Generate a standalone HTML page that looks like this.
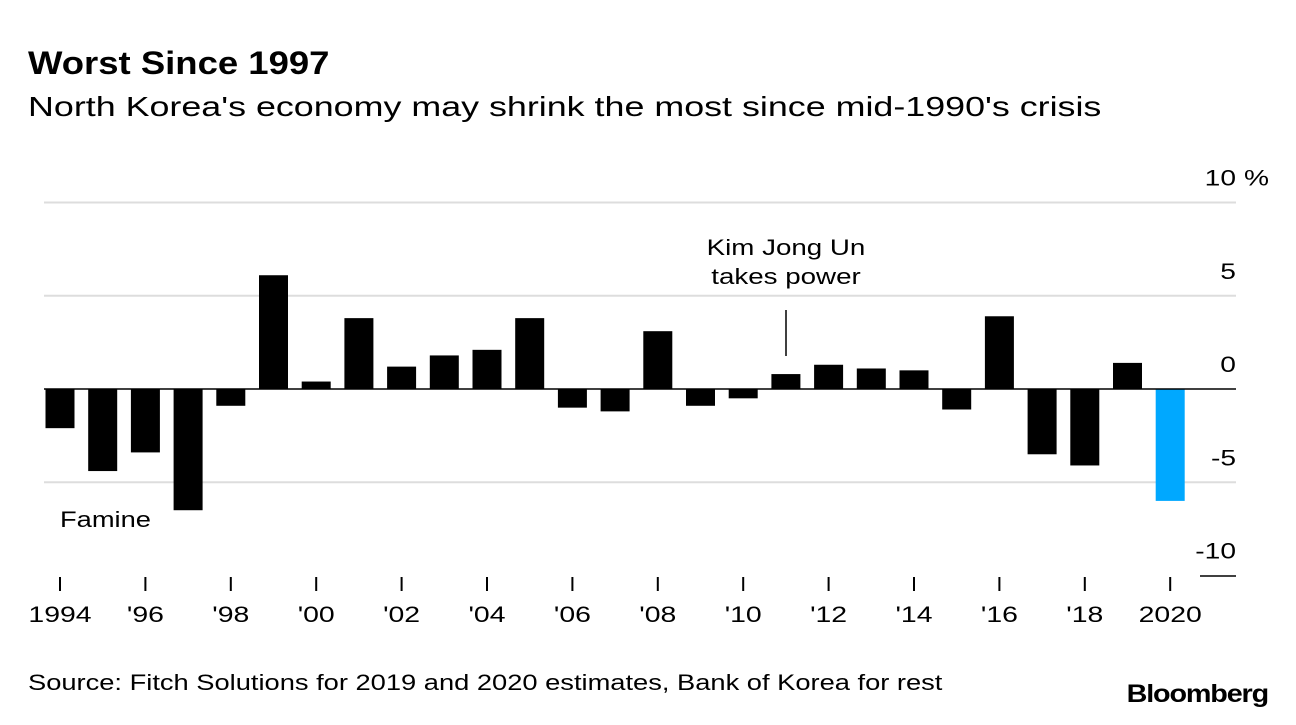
<!DOCTYPE html>
<html><head><meta charset="utf-8"><style>
body{margin:0;background:#fff;width:1296px;height:720px;overflow:hidden;font-family:"Liberation Sans",sans-serif}
</style></head><body>
<svg width="1296" height="720" style="font-family:'Liberation Sans',sans-serif">
<text x="28" y="74" font-size="32" font-weight="bold" data-f="1.14">Worst Since 1997</text>
<text x="28" y="116" font-size="28" data-f="1.28">North Korea's economy may shrink the most since mid-1990's crisis</text>
<g id="grid"></g>
<g id="bars"></g>
<g id="xaxis"></g>
<text x="60" y="527" font-size="22" data-f="1.24">Famine</text>
<text x="786" y="255" font-size="22" text-anchor="middle" data-f="1.26">Kim Jong Un</text>
<text x="786" y="284" font-size="22" text-anchor="middle" data-f="1.26">takes power</text>
<line x1="786" y1="310" x2="786" y2="356" stroke="#000" stroke-width="1.5"/>
<text x="28" y="690" font-size="22" data-f="1.24">Source: Fitch Solutions for 2019 and 2020 estimates, Bank of Korea for rest</text>
<text x="1268" y="702" font-size="25" font-weight="bold" text-anchor="end" letter-spacing="-1" data-f="1.15">Bloomberg</text>
</svg>
<script>
const years=[1994,1995,1996,1997,1998,1999,2000,2001,2002,2003,2004,2005,2006,2007,2008,2009,2010,2011,2012,2013,2014,2015,2016,2017,2018,2019,2020];
const growth=[-2.1,-4.4,-3.4,-6.5,-0.9,6.1,0.4,3.8,1.2,1.8,2.1,3.8,-1.0,-1.2,3.1,-0.9,-0.5,0.8,1.3,1.1,1.0,-1.1,3.9,-3.5,-4.1,1.4,-6.0];
const yTicks=[10,5,0,-5,-10];
const yTickLabels=["10","5","0","-5","-10"];
const xLabels={1994:"1994",1996:"'96",1998:"'98",2000:"'00",2002:"'02",2004:"'04",2006:"'06",2008:"'08",2010:"'10",2012:"'12",2014:"'14",2016:"'16",2018:"'18",2020:"2020"};
const NS="http://www.w3.org/2000/svg";
const y=v=>389-v*18.65;
const x=yr=>60+(yr-1994)*42.7;
function mk(t,a,p){const e=document.createElementNS(NS,t);for(const k in a)e.setAttribute(k,a[k]);p.appendChild(e);return e;}
const grid=document.getElementById('grid');
yTicks.forEach((v,i)=>{
  if(v!==0&&v!==-10){const l=mk('line',{x1:44,x2:1236,y1:y(v),y2:y(v),stroke:'#ddd','stroke-width':2},grid);
  
  }
  const t=mk('text',{x:1236,y:y(v)-17,'font-size':22,'text-anchor':'end','data-f':1.28},grid);t.textContent=yTickLabels[i];
  
  
});
const pc=mk('text',{x:1244,y:y(10)-17,'font-size':22,'data-f':1.28},grid);pc.textContent='%';


const bars=document.getElementById('bars');
years.forEach((yr,i)=>{
  const v=growth[i];
  const r=mk('rect',{x:x(yr)-14.5,width:29,y:Math.min(y(v),y(0)),height:Math.abs(y(v)-y(0)),fill:yr===2020?'#00a8ff':'#000'},bars);
  
  
});
const z=mk('line',{x1:44,x2:1236,y1:y(0),y2:y(0),stroke:'#000','stroke-width':1.5},bars);


const xa=document.getElementById('xaxis');
const bl=mk('line',{x1:1200,x2:1236,y1:576,y2:576,stroke:'#000','stroke-width':1.5},xa);


years.forEach(yr=>{
  if(yr%2===0){
    const tk=mk('line',{x1:x(yr),x2:x(yr),y1:577,y2:591,stroke:'#000','stroke-width':2},xa);
    
    
    const t=mk('text',{x:x(yr),y:622,'font-size':22,'text-anchor':'middle','data-f':1.29},xa);t.textContent=xLabels[yr];
    
    
  }
});
document.querySelectorAll('text[data-f]').forEach(t=>{
  const w=t.getComputedTextLength()*parseFloat(t.getAttribute('data-f'));
  t.setAttribute('textLength',w);
  t.setAttribute('lengthAdjust','spacingAndGlyphs');
});
</script>
</body></html>
